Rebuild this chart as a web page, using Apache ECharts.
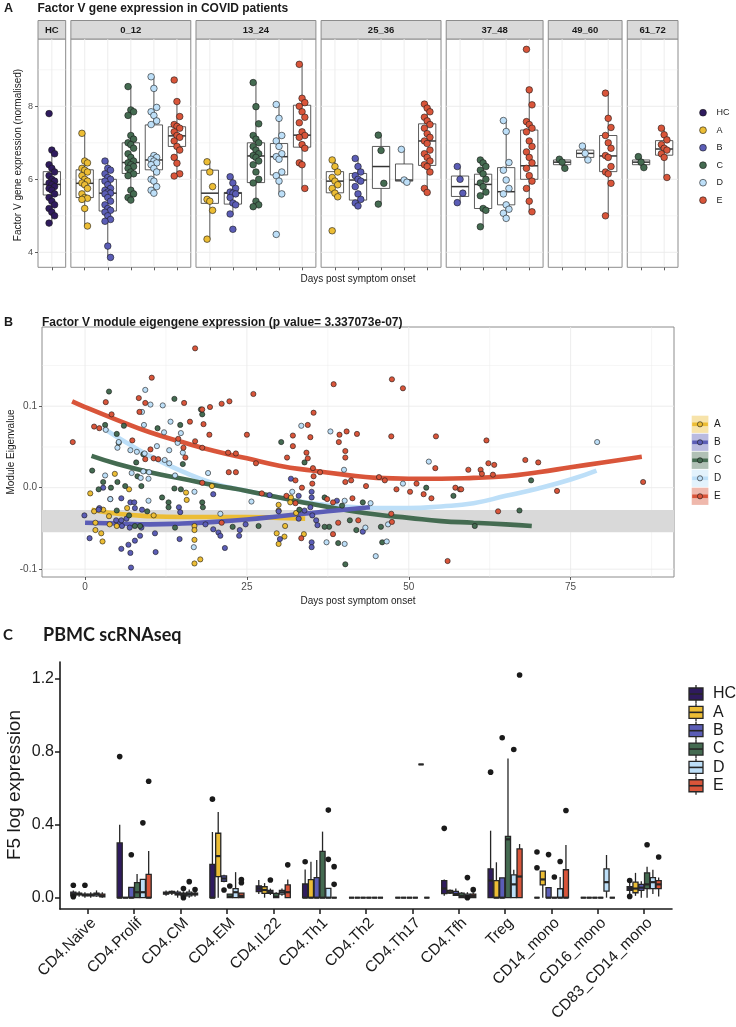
<!DOCTYPE html>
<html><head><meta charset="utf-8">
<script src="https://cdn.jsdelivr.net/npm/echarts@6/dist/echarts.min.js"></script>
<style>html,body{margin:0;padding:0;background:#fff;}#chart{width:736px;height:1027px;}</style>
</head><body><div id="chart"></div>
<script>
// ================= DATA =================
const groupNames = ['HC','A','B','C','D','E'];
const groupColors = ['#2f1b5e','#ecbd35','#5b5db6','#446b51','#bddff8','#d9553a'];

// ---- Panel A: Factor V gene expression (facets = days post symptom onset) ----
const aFacets = ['HC','0_12','13_24','25_36','37_48','49_60','61_72'];
const aFacetGroups = [['HC'],['A','B','C','D','E'],['A','B','C','D','E'],['A','B','C','D','E'],['B','C','D','E'],['C','D','E'],['C','E']];
const aYTicks = [4,6,8];
// points per group, one entry per facet (null = absent)
const aPtsHC = [[7.8,6.8,6.7,6.4,6.3,6.2,6.1,6.0,5.95,5.9,5.85,5.8,5.75,5.7,5.6,5.5,5.4,5.3,5.2,5.1,5.0,4.8],null,null,null,null,null,null];
const aPtsA = [null,
  [7.26,6.5,6.45,6.3,6.25,6.2,6.1,6.0,5.95,5.9,5.85,5.75,5.6,5.5,5.48,5.45,5.2,4.72],
  [6.48,6.2,5.8,5.45,5.4,5.15,4.36],
  [6.53,6.35,6.2,6.05,5.95,5.85,5.75,5.62,5.52,4.59],null,null,null];
const aPtsB = [null,
  [6.5,6.3,6.25,6.15,6.05,6.0,5.95,5.85,5.75,5.7,5.65,5.62,5.6,5.5,5.4,5.3,5.2,5.15,5.1,5.0,4.9,4.85,4.17,3.86],
  [6.07,5.9,5.75,5.65,5.62,5.6,5.5,5.35,5.3,5.05,4.63],
  [6.57,6.35,6.2,6.1,6.0,5.95,5.8,5.6,5.45,5.35,5.27],
  [6.35,6.0,5.62,5.36],null,null];
const aPtsC = [null,
  [8.54,7.9,7.85,7.75,7.2,7.1,7.0,6.95,6.85,6.7,6.6,6.5,6.45,6.4,6.35,6.3,6.2,6.15,6.1,5.7,5.6,5.5,5.43],
  [8.65,7.99,7.52,7.2,7.1,7.0,6.9,6.8,6.7,6.65,6.6,6.5,6.4,6.2,6.0,5.9,5.4,5.3,5.25],
  [7.21,6.79,5.89,5.32],
  [6.53,6.45,6.35,6.25,6.15,6.0,5.9,5.8,5.65,5.55,5.2,5.15,4.7],
  [6.55,6.47,6.3],
  [6.62,6.47,6.32]];
const aPtsD = [null,
  [8.81,8.49,7.97,7.85,7.75,7.6,7.5,6.65,6.6,6.55,6.5,6.45,6.4,6.3,6.2,6.0,5.95,5.8,5.7,5.62],
  [8.05,7.67,7.2,7.05,6.9,6.7,6.62,6.55,6.2,6.1,5.95,5.6,4.49],
  [6.82,5.98,5.92],
  [7.61,7.31,6.46,6.25,5.98,5.75,5.6,5.3,5.18,5.07,4.93],
  [6.91,6.71,6.53],null];
const aPtsE = [null,
  [8.72,8.13,7.72,7.5,7.45,7.4,7.3,7.2,7.15,7.05,6.9,6.8,6.6,6.44,6.15,6.09],
  [9.15,8.22,8.1,8.0,7.85,7.7,7.55,7.3,7.2,7.15,6.95,6.85,6.45,6.4,5.75],
  [8.06,7.95,7.85,7.7,7.6,7.5,7.4,7.25,7.15,7.05,6.98,6.8,6.7,6.6,6.5,6.4,6.35,6.2,5.75,5.64],
  [9.56,8.45,8.04,7.58,7.5,7.4,7.3,7.05,6.9,6.75,6.6,6.45,6.3,6.1,5.95,5.75,5.4,5.11],
  [8.36,7.67,7.42,7.2,7.0,6.85,6.65,6.6,6.35,6.2,6.15,5.89,5.0],
  [7.4,7.22,7.08,6.95,6.85,6.8,6.7,6.6,6.05]];
// box stats [low, q1, median, q3, high]
const aBoxHC = [[4.78,5.57,5.86,6.21,6.8],null,null,null,null,null,null];
const aBoxA = [null,[4.72,5.5,5.89,6.26,7.26],[4.36,5.34,5.62,6.25,6.48],[5.52,5.63,5.95,6.21,6.53],null,null,null];
const aBoxB = [null,[3.86,5.13,5.62,6.0,6.5],[5.02,5.32,5.62,5.64,6.07],[5.27,5.43,5.98,6.16,6.57],[5.36,5.53,5.8,6.09,6.35],null,null];
const aBoxC = [null,[5.43,6.16,6.46,7.0,8.54],[5.25,5.91,6.64,7.0,8.65],[5.32,5.75,6.35,6.9,7.21],[4.7,5.2,5.86,6.14,6.53],[6.3,6.4,6.47,6.53,6.55],[6.32,6.4,6.47,6.53,6.62]];
const aBoxD = [null,[5.62,6.26,6.53,7.49,8.81],[5.6,6.12,6.62,6.98,8.05],[5.91,5.95,5.98,6.42,6.82],[4.93,5.3,5.66,6.32,7.61],[6.53,6.6,6.71,6.8,6.91],null];
const aBoxE = [null,[6.09,6.9,7.19,7.44,8.13],[5.75,6.88,7.21,8.03,9.15],[5.64,6.38,7.05,7.52,8.06],[5.11,6.0,6.37,7.35,8.45],[5.0,6.21,6.64,7.2,8.36],[6.05,6.66,6.83,7.06,7.4]];

// ---- Panel B: module eigengene vs days ----
const bGroups = ['A','B','C','D','E'];
const bXTicks = [0,25,50,75];
const bYTicks = [-0.1,0,0.1];
const bBand = [-0.0548,-0.0274];
const bPtsA = [[0.8,-0.007],[4.6,0.017],[6.8,-0.002],[2.8,-0.027],[1.4,-0.029],[3.7,-0.035],[6.5,-0.025],[1.6,-0.043],[1.6,-0.052],[2.5,-0.056],[2.7,-0.066],[3.8,-0.045],[4.9,-0.047],[10.6,-0.034],[15.6,-0.006],[15.7,-0.015],[16.9,-0.047],[16.9,-0.052],[16.9,-0.064],[16.9,-0.093],[17.8,-0.088],[19.6,0.002],[29.9,-0.021],[29.9,-0.028],[31.8,-0.012],[31.7,-0.018],[32.6,-0.031],[30.9,-0.047],[29.6,-0.056],[29.9,-0.069],[30.8,-0.06],[33.8,-0.057]];
const bPtsB = [[-0.1,-0.034],[0.7,-0.062],[2.2,-0.025],[2.8,0.0],[3.9,-0.014],[5.6,-0.013],[7.0,-0.018],[7.6,-0.018],[7.7,-0.025],[4.8,-0.04],[5.6,-0.04],[6.4,-0.038],[5.7,-0.047],[6.9,-0.049],[5.6,-0.075],[6.7,-0.07],[7.0,-0.08],[7.7,-0.065],[7.1,-0.098],[8.5,-0.059],[8.7,-0.049],[10.8,-0.056],[10.9,-0.079],[8.8,-0.027],[14.5,-0.024],[14.7,-0.03],[14.6,-0.063],[19.8,-0.008],[18.6,-0.045],[19.8,-0.051],[20.6,-0.055],[20.9,-0.059],[21.6,-0.074],[23.9,-0.052],[23.8,-0.059],[24.8,-0.045],[2.1,-0.027],[28.5,-0.009],[31.8,0.011],[35.0,-0.005],[35.0,-0.012],[33.0,-0.01],[29.9,-0.029],[33.0,-0.038],[33.9,-0.028],[34.8,-0.024],[35.1,-0.034],[35.7,-0.04],[35.9,-0.046],[38.9,-0.016],[42.9,-0.054],[35.0,-0.067],[35.0,-0.073],[30.1,-0.063]];
const bPtsC = [[3.7,0.118],[13.8,0.109],[18.1,0.09],[3.1,0.077],[6.0,0.076],[4.9,0.066],[5.2,0.055],[11.2,0.073],[14.7,0.077],[17.9,0.096],[9.0,0.041],[7.9,0.031],[15.1,0.029],[1.1,0.021],[2.8,0.007],[4.0,0.0],[5.0,0.007],[2.1,-0.002],[6.2,0.002],[8.1,0.014],[8.7,0.002],[13.8,-0.001],[14.8,-0.002],[11.9,-0.012],[12.9,-0.018],[12.9,-0.024],[18.1,-0.018],[18.2,-0.024],[4.9,-0.028],[6.8,-0.034],[9.6,-0.029],[7.7,-0.047],[8.5,-0.047],[13.9,-0.049],[22.8,-0.048],[30.3,0.056],[33.9,0.031],[37.0,-0.012],[39.7,-0.022],[42.9,-0.018],[33.1,-0.027],[37.7,-0.048],[37.0,-0.048],[40.9,-0.04],[41.9,-0.052],[45.7,-0.048],[45.9,-0.067],[39.1,-0.068],[40.2,-0.094],[52.7,0.0],[56.9,-0.01],[26.8,-0.047],[68.9,0.009],[67.1,-0.028],[60.2,-0.047]];
const bPtsD = [[9.3,0.12],[10.1,0.102],[12.0,0.101],[8.8,0.093],[3.2,0.071],[9.1,0.077],[13.2,0.081],[14.8,0.067],[12.2,0.068],[14.3,0.055],[15.1,0.043],[5.2,0.056],[5.0,0.049],[7.0,0.046],[8.0,0.044],[9.2,0.042],[11.1,0.051],[13.0,0.046],[12.3,0.034],[13.0,0.03],[7.2,0.018],[3.1,0.015],[9.0,0.02],[9.9,0.019],[9.8,0.011],[8.6,0.012],[13.9,0.015],[19.0,0.018],[16.9,-0.005],[3.9,-0.014],[9.8,-0.016],[20.9,-0.032],[16.8,-0.073],[25.7,-0.017],[33.4,0.076],[37.9,0.069],[40.0,0.022],[32.0,-0.005],[40.1,-0.016],[44.1,-0.019],[49.1,0.005],[53.1,0.032],[43.3,-0.049],[46.8,-0.045],[37.3,-0.067],[40.1,-0.069],[46.6,-0.066],[44.9,-0.084],[79.1,0.056]];
const bPtsE = [[-1.9,0.056],[17.0,0.171],[10.3,0.135],[3.2,0.105],[8.3,0.11],[9.3,0.104],[8.4,0.093],[4.1,0.09],[1.4,0.075],[2.2,0.073],[15.3,0.104],[14.4,0.06],[18.1,0.096],[19.3,0.099],[21.1,0.103],[22.3,0.106],[18.3,0.078],[16.2,0.081],[19.2,0.065],[17.0,0.057],[7.3,0.058],[10.1,0.047],[9.3,0.035],[10.6,0.036],[11.3,0.035],[15.2,0.049],[15.5,0.037],[18.1,0.049],[22.1,0.043],[23.3,0.042],[25.0,0.065],[26.0,0.115],[22.2,0.019],[23.3,0.019],[18.1,0.006],[21.1,-0.043],[38.4,0.127],[47.4,0.133],[49.1,0.122],[35.3,0.092],[34.4,0.077],[32.1,0.064],[34.8,0.062],[32.1,0.051],[39.3,0.065],[39.2,0.056],[40.4,0.069],[42.0,0.066],[47.3,0.063],[54.2,0.063],[34.2,0.043],[34.4,0.036],[31.2,0.037],[40.2,0.045],[40.2,0.037],[35.2,0.024],[36.3,0.019],[35.3,0.014],[32.5,0.009],[35.1,0.005],[33.5,0.0],[41.1,0.009],[40.2,0.007],[43.4,0.002],[45.4,0.013],[46.3,0.009],[48.1,-0.002],[50.2,-0.005],[51.2,0.005],[52.3,-0.008],[53.5,-0.013],[54.1,0.024],[57.2,0.0],[57.9,-0.002],[26.4,0.03],[27.3,-0.007],[31.1,-0.01],[32.5,-0.019],[37.4,-0.014],[38.3,-0.018],[39.1,-0.043],[41.3,-0.013],[42.2,-0.04],[47.3,-0.032],[47.4,-0.042],[38.3,-0.057],[33.4,-0.062],[56.0,-0.09],[62.0,0.058],[62.3,0.03],[63.2,0.028],[61.1,0.022],[59.2,0.022],[61.3,0.017],[63.0,0.016],[68.0,0.034],[70.0,0.031],[72.9,-0.004],[63.8,-0.029],[86.2,0.007],[58.1,-0.002]];
// smoothed fits
const bFitA = [[1,-0.027],[5,-0.032],[10,-0.035],[15,-0.036],[20,-0.036],[25,-0.036],[30,-0.037],[34,-0.038]];
const bFitB = [[0,-0.043],[5,-0.044],[10,-0.045],[15,-0.044],[20,-0.042],[25,-0.039],[30,-0.035],[35,-0.031],[40,-0.027],[44,-0.024]];
const bFitC = [[1,0.039],[5,0.029],[10,0.019],[15,0.011],[20,0.003],[25,-0.004],[30,-0.012],[35,-0.02],[40,-0.027],[45,-0.033],[50,-0.037],[55,-0.041],[60,-0.043],[65,-0.045],[69,-0.047]];
const bFitD = [[2.8,0.073],[5,0.062],[10,0.039],[15,0.02],[20,0.005],[25,-0.004],[30,-0.012],[35,-0.019],[40,-0.023],[45,-0.025],[50,-0.025],[55,-0.023],[60,-0.019],[65,-0.01],[70,-0.001],[75,0.01],[79,0.021]];
const bFitE = [[-2,0.106],[0,0.099],[5,0.083],[10,0.068],[15,0.056],[20,0.045],[25,0.036],[30,0.027],[35,0.021],[40,0.016],[45,0.012],[50,0.011],[55,0.011],[60,0.012],[65,0.014],[70,0.019],[75,0.025],[80,0.031],[86,0.038]];

// ---- Panel C: PBMC scRNAseq ----
const cCats = ['CD4.Naive','CD4.Prolif','CD4.CM','CD4.EM','CD4.IL22','CD4.Th1','CD4.Th2','CD4.Th17','CD4.Tfh','Treg','CD14_mono','CD16_mono','CD83_CD14_mono'];
const cYTicks = [0,0.4,0.8,1.2];
const cBoxHC = [[0,0.01,0.02,0.03,0.04],[0,0,0,0.30,0.40],[0.01,0.02,0.025,0.03,0.04],[0,0,0,0.183,0.36],[0.02,0.033,0.05,0.064,0.097],[0,0,0,0.075,0.155],[0,0,0,0,0],[0,0,0,0,0],[0.01,0.022,0.05,0.094,0.10],[0,0,0.094,0.158,0.367],[0,0,0,0,0],[0,0,0,0,0],[0.02,0.04,0.05,0.06,0.08]];
const cBoxA = [[0.005,0.015,0.02,0.025,0.035],[0,0,0,0,0],[0.015,0.025,0.03,0.035,0.04],[0,0.115,0.228,0.353,0.47],[0,0.024,0.042,0.06,0.08],[0,0,0,0.099,0.197],[0,0,0,0,0],[0,0,0,0,0],[0.02,0.025,0.03,0.04,0.045],[0,0,0,0.094,0.194],[0,0.07,0.1,0.145,0.145],[0,0,0,0,0],[0.01,0.027,0.05,0.085,0.136]];
const cBoxB = [[0,0.01,0.015,0.02,0.03],[0,0,0,0.057,0.057],[0,0.015,0.02,0.03,0.04],[0.085,0.09,0.105,0.12,0.125],[0.015,0.024,0.03,0.04,0.05],[0,0,0,0.11,0.207],[0,0,0,0,0],[0,0,0,0,0],[0.01,0.013,0.02,0.035,0.05],[0,0,0,0.109,0.109],[0,0,0,0.055,0.055],[0,0,0,0,0],[0,0.04,0.055,0.073,0.09]];
const cBoxC = [[0,0.01,0.015,0.02,0.03],[0,0,0.03,0.082,0.13],[0,0.01,0.02,0.025,0.035],[0,0,0.005,0.02,0.02],[0,0,0.005,0.024,0.03],[0,0,0,0.254,0.362],[0,0,0,0,0],[0,0,0,0,0],[0,0,0.01,0.025,0.03],[0,0,0.32,0.336,0.763],[0,0,0,0,0],[0,0,0,0,0],[0,0.05,0.073,0.136,0.17]];
const cBoxD = [[0.005,0.01,0.02,0.025,0.04],[0,0,0.03,0.10,0.10],[0,0.01,0.02,0.03,0.045],[0,0,0.03,0.05,0.14],[0.01,0.02,0.03,0.04,0.05],[0,0,0,0.051,0.051],[0,0,0,0,0],[0.73,0.73,0.73,0.73,0.73],[0,0,0.01,0.02,0.03],[0,0,0.073,0.125,0.153],[0,0,0,0.049,0.113],[0,0.036,0.085,0.158,0.234],[0.02,0.05,0.085,0.11,0.153]];
const cBoxE = [[0,0.005,0.01,0.02,0.03],[0,0,0,0.128,0.256],[0.005,0.015,0.02,0.025,0.035],[0,0,0.01,0.025,0.025],[0,0,0.03,0.07,0.10],[0,0,0,0,0],[0,0,0,0,0],[0,0,0,0,0],[0,0,0.01,0.02,0.03],[0,0,0.116,0.267,0.294],[0,0,0,0.153,0.289],[0,0,0,0,0],[0.007,0.05,0.073,0.094,0.11]];
// outliers: [category index, value]
const cOutHC = [[0,0.068],[0,0.005],[1,0.773],[3,0.54],[5,0.197],[8,0.38],[9,0.688],[10,0.25],[10,0.164],[12,0.094],[12,0.007]];
const cOutA = [];
const cOutB = [[0,0.068],[1,0.235],[3,0.042],[4,0.097],[9,0.876],[10,0.236]];
const cOutC = [[2,0.05],[2,0.0],[3,0.064],[10,0.113],[12,0.29]];
const cOutD = [[1,0.41],[2,0.088],[5,0.48],[5,0.21],[8,0.11],[8,0.0],[9,0.812],[10,0.198]];
const cOutE = [[1,0.638],[2,0.045],[3,0.10],[3,0.082],[4,0.18],[5,0.17],[5,0.073],[8,0.044],[9,1.22],[10,0.478],[12,0.223]];

// ================= BUILD =================
const FONT = '"Liberation Sans", Arial, sans-serif';
const colorOf = g => groupColors[groupNames.indexOf(g)];
const range = n => Array.from({length:n}, (_, i) => i);
const tint = (hex, a) => { const n = parseInt(hex.slice(1), 16); return 'rgba(' + (n >> 16) + ',' + ((n >> 8) & 255) + ',' + (n & 255) + ',' + a + ')'; };
const aPtsBy = {HC:aPtsHC, A:aPtsA, B:aPtsB, C:aPtsC, D:aPtsD, E:aPtsE};
const aBoxBy = {HC:aBoxHC, A:aBoxA, B:aBoxB, C:aBoxC, D:aBoxD, E:aBoxE};

const grids = [], xAxes = [], yAxes = [], series = [], graphics = [];

function txt(x, y, text, font, fill, align, vAlign, rotation) {
  return {type:'text', x:x, y:y, rotation:rotation || 0, silent:true,
    style:{text:text, font:font, fill:fill || '#1a1a1a', textAlign:align || 'left', textVerticalAlign:vAlign || 'middle', align:align || 'left', verticalAlign:vAlign || 'middle'}};
}
function gridSeries(idx, items, color) {
  return {type:'custom', xAxisIndex:idx, yAxisIndex:idx, silent:true, z:1, data:items,
    renderItem: function (params, api) {
      const cs = params.coordSys, v = api.value(0), o = api.value(1), w = api.value(2);
      if (o === 0) { const y = api.coord([0, v])[1];
        return {type:'line', shape:{x1:cs.x, y1:y, x2:cs.x + cs.width, y2:y}, style:{stroke:color, lineWidth:w}}; }
      const x = api.coord([v, 0])[0];
      return {type:'line', shape:{x1:x, y1:cs.y, x2:x, y2:cs.y + cs.height}, style:{stroke:color, lineWidth:w}};
    }};
}
function boxSeries(idx, items, fill, stroke, lw, medLw, bw, z) {
  return {type:'custom', xAxisIndex:idx, yAxisIndex:idx, silent:true, z:z, data:items,
    renderItem: function (params, api) {
      const x = api.value(0);
      const lo = api.coord([x, api.value(1)]), q1 = api.coord([x, api.value(2)]), md = api.coord([x, api.value(3)]),
            q3 = api.coord([x, api.value(4)]), hi = api.coord([x, api.value(5)]);
      const half = api.size([bw, 0])[0] / 2, cx = md[0];
      return {type:'group', children:[
        {type:'line', shape:{x1:cx, y1:hi[1], x2:cx, y2:q3[1]}, style:{stroke:stroke, lineWidth:lw}},
        {type:'line', shape:{x1:cx, y1:q1[1], x2:cx, y2:lo[1]}, style:{stroke:stroke, lineWidth:lw}},
        {type:'rect', shape:{x:cx - half, y:q3[1], width:2 * half, height:Math.max(q1[1] - q3[1], 0)}, style:{fill:fill, stroke:stroke, lineWidth:lw}},
        {type:'line', shape:{x1:cx - half, y1:md[1], x2:cx + half, y2:md[1]}, style:{stroke:stroke, lineWidth:medLw}}
      ]};
    }};
}

// ---------- Panel A ----------
const aNs = aFacetGroups.map(g => g.length);
const aGap = 5.2, aLeft0 = 38, aRight = 678, aTop = 39, aH = 228.3;
const aUnit = (aRight - aLeft0 - aGap * (aFacets.length - 1)) / aNs.reduce((s, n) => s + n + 0.2, 0);
let cursor = aLeft0;
aFacets.forEach((f, fi) => {
  const n = aNs[fi], w = (n + 0.2) * aUnit, idx = grids.length;
  grids.push({left:cursor, top:aTop, width:w, height:aH, show:true, borderColor:'#8c8c8c', borderWidth:1, backgroundColor:'#fff'});
  xAxes.push({type:'value', gridIndex:idx, min:-0.6, max:n - 0.4, splitLine:{show:false},
    axisLine:{show:false, onZero:false}, axisTick:{show:true, customValues:range(n), length:3, lineStyle:{color:'#333', width:0.8}}, axisLabel:{show:false}});
  yAxes.push({type:'value', gridIndex:idx, min:3.589, max:9.844, splitLine:{show:false}, axisLine:{show:false, onZero:false},
    axisTick:{show:fi === 0, customValues:aYTicks, length:3, lineStyle:{color:'#333', width:0.8}},
    axisLabel:{show:fi === 0, customValues:aYTicks, fontSize:9, color:'#4d4d4d', margin:5, fontFamily:FONT}});
  const gl = [[4,0,0.9],[6,0,0.9],[8,0,0.9],[5,0,0.45],[7,0,0.45],[9,0,0.45]].concat(range(n).map(i => [i, 1, 0.9]));
  series.push(gridSeries(idx, gl, '#ebebeb'));
  const groups = aFacetGroups[fi];
  series.push(boxSeries(idx, groups.map((g, i) => [i].concat(aBoxBy[g][fi])), '#ffffff', '#333333', 0.8, 1.5, 0.75, 2));
  groups.forEach((g, i) => {
    series.push({type:'scatter', xAxisIndex:idx, yAxisIndex:idx, z:3, silent:true, symbolSize:6.6,
      itemStyle:{color:colorOf(g), borderColor:'#1a1a1a', borderWidth:0.6, opacity:1},
      data:aPtsBy[g][fi].map((v, j) => [i + ((j % 3) - 1) * 0.12, v])});
  });
  graphics.push({type:'rect', silent:true, shape:{x:cursor, y:20.5, width:w, height:18.5}, style:{fill:'#d9d9d9', stroke:'#8c8c8c', lineWidth:1}});
  graphics.push(txt(cursor + w / 2, 30, f, 'bold 9.5px ' + FONT, '#1a1a1a', 'center', 'middle'));
  cursor += w + aGap;
});
graphics.push(txt(4, 9, 'A', 'bold 12.5px ' + FONT));
graphics.push(txt(37.5, 9, 'Factor V gene expression in COVID patients', 'bold 12px ' + FONT));
graphics.push(txt(18, 155, 'Factor V gene expression (normalised)', '10px ' + FONT, '#1a1a1a', 'center', 'middle', Math.PI / 2));
graphics.push(txt(358, 279.5, 'Days post symptom onset', '10px ' + FONT, '#1a1a1a', 'center', 'middle'));
groupNames.forEach((g, i) => {
  const y = 112.7 + i * 17.5;
  graphics.push({type:'circle', silent:true, shape:{cx:703, cy:y, r:3.4}, style:{fill:groupColors[i], stroke:'#1a1a1a', lineWidth:0.6}});
  graphics.push(txt(716.5, y, g, '9px ' + FONT));
});

// ---------- Panel B ----------
const bIdx = grids.length;
grids.push({left:42, top:327, width:632, height:250, show:true, borderColor:'#8c8c8c', borderWidth:1, backgroundColor:'#fff'});
xAxes.push({type:'value', gridIndex:bIdx, min:-6.65, max:90.97, splitLine:{show:false}, axisLine:{show:false, onZero:false},
  axisTick:{show:true, customValues:bXTicks, length:3, lineStyle:{color:'#333', width:0.8}},
  axisLabel:{customValues:bXTicks, fontSize:10, color:'#4d4d4d', margin:5, fontFamily:FONT}});
yAxes.push({type:'value', gridIndex:bIdx, min:-0.1096, max:0.1972, splitLine:{show:false}, axisLine:{show:false, onZero:false},
  axisTick:{show:true, customValues:bYTicks, length:3, lineStyle:{color:'#333', width:0.8}},
  axisLabel:{customValues:bYTicks, fontSize:10, color:'#4d4d4d', margin:5, fontFamily:FONT, formatter:v => Number(v).toFixed(1)}});
series.push(gridSeries(bIdx, [[0,1,0.9],[25,1,0.9],[50,1,0.9],[75,1,0.9],[12.5,1,0.45],[37.5,1,0.45],[62.5,1,0.45],[87.5,1,0.45],
  [-0.1,0,0.9],[0,0,0.9],[0.1,0,0.9],[-0.05,0,0.45],[0.05,0,0.45],[0.15,0,0.45]], '#ebebeb'));
series.push({type:'custom', xAxisIndex:bIdx, yAxisIndex:bIdx, silent:true, z:1.5, data:[bBand],
  renderItem: function (params, api) {
    const cs = params.coordSys, y1 = api.coord([0, api.value(1)])[1], y2 = api.coord([0, api.value(0)])[1];
    return {type:'rect', shape:{x:cs.x, y:y1, width:cs.width, height:y2 - y1}, style:{fill:'#d9d9d9'}};
  }});
const bPtsBy = {A:bPtsA, B:bPtsB, C:bPtsC, D:bPtsD, E:bPtsE};
const bFitBy = {A:bFitA, B:bFitB, C:bFitC, D:bFitD, E:bFitE};
['E','D','C','A','B'].forEach(g => {
  series.push({type:'line', xAxisIndex:bIdx, yAxisIndex:bIdx, z:3, silent:true, smooth:0.5, showSymbol:false, symbol:'none',
    lineStyle:{color:colorOf(g), width:4.6, cap:'butt'}, data:bFitBy[g]});
});
bGroups.forEach(g => {
  series.push({type:'scatter', xAxisIndex:bIdx, yAxisIndex:bIdx, z:4, silent:true, symbolSize:5.2,
    itemStyle:{color:colorOf(g), borderColor:'#1a1a1a', borderWidth:0.6, opacity:1}, data:bPtsBy[g]});
});
graphics.push(txt(4, 323, 'B', 'bold 12.5px ' + FONT));
graphics.push(txt(42, 323, 'Factor V module eigengene expression (p value= 3.337073e-07)', 'bold 12px ' + FONT));
graphics.push(txt(11, 452, 'Module Eigenvalue', '10px ' + FONT, '#1a1a1a', 'center', 'middle', Math.PI / 2));
graphics.push(txt(358, 601, 'Days post symptom onset', '10px ' + FONT, '#1a1a1a', 'center', 'middle'));
bGroups.forEach((g, i) => {
  const y = 424.3 + i * 18, c = colorOf(g);
  graphics.push({type:'rect', silent:true, shape:{x:691.7, y:y - 8.6, width:16.7, height:17.2}, style:{fill:tint(c, 0.42)}});
  graphics.push({type:'line', silent:true, shape:{x1:692.2, y1:y, x2:707.9, y2:y}, style:{stroke:c, lineWidth:3.6}});
  graphics.push({type:'circle', silent:true, shape:{cx:700, cy:y, r:2.6}, style:{fill:c, stroke:'#1a1a1a', lineWidth:0.6}});
  graphics.push(txt(714, y, g, '10px ' + FONT));
});

// ---------- Panel C ----------
const cIdx = grids.length;
grids.push({left:60, top:662, width:612, height:247, show:false});
xAxes.push({type:'value', gridIndex:cIdx, min:-0.6, max:12.6, splitLine:{show:false},
  axisLine:{show:true, onZero:false, lineStyle:{color:'#1a1a1a', width:1.6}},
  axisTick:{show:true, customValues:range(cCats.length), length:5, lineStyle:{color:'#1a1a1a', width:1.5}},
  axisLabel:{customValues:range(cCats.length), formatter:v => cCats[Math.round(v)], rotate:45, fontSize:15.5, color:'#1a1a1a',
    margin:6, align:'right', verticalAlign:'top', fontFamily:FONT}});
yAxes.push({type:'value', gridIndex:cIdx, min:-0.062, max:1.2915, splitLine:{show:false},
  axisLine:{show:true, onZero:false, lineStyle:{color:'#1a1a1a', width:1.6}},
  axisTick:{show:true, customValues:cYTicks, length:5, lineStyle:{color:'#1a1a1a', width:1.5}},
  axisLabel:{customValues:cYTicks, formatter:v => Number(v).toFixed(1), fontSize:16, color:'#1a1a1a', margin:6, fontFamily:FONT}});
const cBoxBy = [cBoxHC, cBoxA, cBoxB, cBoxC, cBoxD, cBoxE];
const cOutBy = [cOutHC, cOutA, cOutB, cOutC, cOutD, cOutE];
const cSlot = 0.75 / groupNames.length;
groupNames.forEach((g, gi) => {
  const off = (gi - (groupNames.length - 1) / 2) * cSlot;
  series.push(boxSeries(cIdx, cCats.map((c, k) => [k + off].concat(cBoxBy[gi][k])), groupColors[gi], '#262626', 1.3, 2.2, cSlot * 0.88, 2));
  series.push({type:'scatter', xAxisIndex:cIdx, yAxisIndex:cIdx, z:3, silent:true, symbolSize:5.6,
    itemStyle:{color:'#1a1a1a', opacity:1}, data:cOutBy[gi].map(p => [p[0] + off, p[1]])});
});
graphics.push(txt(3, 635, 'C', 'bold 15px Lato, ' + FONT));
graphics.push(txt(43, 635, 'PBMC scRNAseq', 'bold 18px Lato, ' + FONT));
graphics.push(txt(15, 785, 'F5 log expression', '19px ' + FONT, '#1a1a1a', 'center', 'middle', Math.PI / 2));
groupNames.forEach((g, i) => {
  const y = 694 + i * 18.35;
  graphics.push({type:'line', silent:true, shape:{x1:696, y1:y - 9, x2:696, y2:y + 9}, style:{stroke:'#262626', lineWidth:1.3}});
  graphics.push({type:'rect', silent:true, shape:{x:689, y:y - 6, width:14, height:12}, style:{fill:groupColors[i], stroke:'#262626', lineWidth:1.3}});
  graphics.push({type:'line', silent:true, shape:{x1:689, y1:y, x2:703, y2:y}, style:{stroke:'#262626', lineWidth:1.6}});
  graphics.push(txt(713, y, g, '16px ' + FONT));
});

const chart = echarts.init(document.getElementById('chart'), null, {renderer:'canvas', width:736, height:1027});
chart.setOption({animation:false, backgroundColor:'#fff', textStyle:{fontFamily:FONT},
  grid:grids, xAxis:xAxes, yAxis:yAxes, series:series, graphic:graphics});
</script></body></html>
